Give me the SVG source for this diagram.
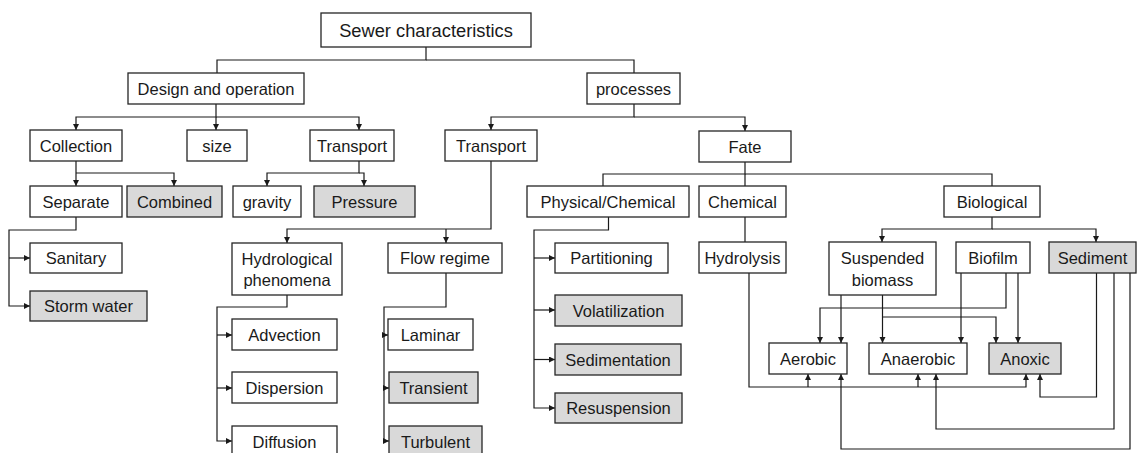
<svg xmlns="http://www.w3.org/2000/svg" width="1137" height="453" viewBox="0 0 1137 453">
<style>
.b rect{fill:#fff;stroke:#262626;stroke-width:1.3}
.g rect{fill:#d9d9d9}
text{font-family:"Liberation Sans",Arial,sans-serif;font-size:16.5px;fill:#1a1a1a;text-anchor:middle}
.c path{fill:none;stroke:#1a1a1a;stroke-width:1.2}
.a{marker-end:url(#ah)}
</style>
<defs>
<marker id="ah" markerUnits="userSpaceOnUse" markerWidth="7" markerHeight="7" refX="6" refY="3" orient="auto">
<path d="M0,0 L6,3 L0,6 z" fill="#1a1a1a"/>
</marker>
</defs>
<rect width="1137" height="453" fill="#fff"/>
<g class="c" id="connectors">
<path d="M426,47 V60 H217 V73"/>
<path d="M426,60 H634 V73"/>
<path class="a" d="M216,104 V117 H76 V130"/>
<path class="a" d="M216,117 V130"/>
<path class="a" d="M216,117 H359 V130"/>
<path class="a" d="M76,161 V173 V186"/>
<path class="a" d="M76,173 H174 V186"/>
<path class="a" d="M359,161 V173 H267 V186"/>
<path class="a" d="M359,173 H364 V186"/>
<path class="a" d="M76,217 V230 H9 V306 H30"/>
<path class="a" d="M9,258 H30"/>
<path class="a" d="M634,104 V117 H491 V130"/>
<path class="a" d="M634,117 H745 V131"/>
<path class="a" d="M491,161 V229 H287 V243"/>
<path class="a" d="M446,229 V243"/>
<path class="a" d="M287,295 V307 H217 V441 H232"/>
<path class="a" d="M217,335 H232"/>
<path class="a" d="M217,388 H232"/>
<path class="a" d="M446,273 V307 H384 V441 H389"/>
<path class="a" d="M384,335 H388"/>
<path class="a" d="M384,388 H389"/>
<path d="M745,162 V174 H603 V186"/>
<path d="M745,174 V186"/>
<path d="M745,174 H992 V186"/>
<path class="a" d="M608.5,217 V230 H534 V408 H555"/>
<path class="a" d="M534,258 H555"/>
<path class="a" d="M534,310 H555"/>
<path class="a" d="M534,359.5 H555"/>
<path d="M745,217 V242"/>
<path class="a" d="M992,217 V229 H882 V242"/>
<path class="a" d="M992,229 H1096 V242"/>
<path class="a" d="M841,295 V343"/>
<path class="a" d="M882.5,295 V343"/>
<path class="a" d="M882.5,317 H996 V343"/>
<path class="a" d="M961,273 V343"/>
<path class="a" d="M1006,273 V308 H820 V343"/>
<path class="a" d="M1018,273 V343"/>
<path class="a" d="M749,273 V387 H1026 V374"/>
<path class="a" d="M808,387 V374"/>
<path class="a" d="M918,387 V374"/>
<path class="a" d="M1096.5,273 V397 H1040 V374"/>
<path class="a" d="M1114,273 V429 H936 V374"/>
<path class="a" d="M1130,273 V449 H841 V374"/>
</g>
<g class="b" id="sewer"><rect x="321" y="13" width="210" height="34"/><text x="426" y="36.5" style="font-size:18.3px">Sewer characteristics</text></g>
<g class="b" id="design"><rect x="128" y="73" width="176" height="31"/><text x="216" y="94.5">Design and operation</text></g>
<g class="b" id="processes"><rect x="587" y="73" width="93" height="31"/><text x="633.5" y="94.5">processes</text></g>
<g class="b" id="collection"><rect x="30" y="130" width="92" height="31"/><text x="76" y="151.5">Collection</text></g>
<g class="b" id="size"><rect x="187" y="130" width="60" height="31"/><text x="217" y="151.5">size</text></g>
<g class="b" id="transport1"><rect x="310" y="130" width="84" height="31"/><text x="352" y="151.5">Transport</text></g>
<g class="b" id="separate"><rect x="30" y="186" width="92" height="31"/><text x="76" y="207.5">Separate</text></g>
<g class="b g" id="combined"><rect x="127" y="186" width="95" height="31"/><text x="174.5" y="207.5">Combined</text></g>
<g class="b" id="gravity"><rect x="233" y="186" width="68" height="31"/><text x="267" y="207.5">gravity</text></g>
<g class="b g" id="pressure"><rect x="314" y="186" width="101" height="31"/><text x="364.5" y="207.5">Pressure</text></g>
<g class="b" id="sanitary"><rect x="30" y="243" width="92" height="30"/><text x="76" y="264">Sanitary</text></g>
<g class="b g" id="stormwater"><rect x="30" y="291" width="117" height="30"/><text x="88.5" y="312">Storm water</text></g>
<g class="b" id="transport2"><rect x="445" y="130" width="92" height="31"/><text x="491" y="151.5">Transport</text></g>
<g class="b" id="fate"><rect x="699" y="131" width="92" height="31"/><text x="745" y="152.5">Fate</text></g>
<g class="b" id="hydrological"><rect x="232" y="243" width="110" height="52"/><text x="287" y="265">Hydrological</text><text x="287" y="286">phenomena</text></g>
<g class="b" id="flowregime"><rect x="388" y="243" width="114" height="30"/><text x="445" y="264">Flow regime</text></g>
<g class="b" id="advection"><rect x="232" y="319" width="105" height="31"/><text x="284.5" y="340.5">Advection</text></g>
<g class="b" id="dispersion"><rect x="232" y="372" width="105" height="31"/><text x="284.5" y="393.5">Dispersion</text></g>
<g class="b" id="diffusion"><rect x="232" y="426" width="105" height="31"/><text x="284.5" y="447.5">Diffusion</text></g>
<g class="b" id="laminar"><rect x="388" y="319" width="85" height="31"/><text x="430.5" y="340.5">Laminar</text></g>
<g class="b g" id="transient"><rect x="389" y="372" width="89" height="31"/><text x="433.5" y="393.5">Transient</text></g>
<g class="b g" id="turbulent"><rect x="389" y="426" width="93" height="31"/><text x="435.5" y="447.5">Turbulent</text></g>
<g class="b" id="physchem"><rect x="527" y="186" width="162" height="31"/><text x="608" y="207.5">Physical/Chemical</text></g>
<g class="b" id="chemical"><rect x="699" y="186" width="87" height="31"/><text x="742.5" y="207.5">Chemical</text></g>
<g class="b" id="biological"><rect x="944" y="186" width="96" height="31"/><text x="992" y="207.5">Biological</text></g>
<g class="b" id="partitioning"><rect x="555" y="243" width="113" height="30"/><text x="611.5" y="264">Partitioning</text></g>
<g class="b g" id="volatilization"><rect x="555" y="295" width="127" height="31"/><text x="618.5" y="316.5">Volatilization</text></g>
<g class="b g" id="sedimentation"><rect x="555" y="344" width="126" height="31"/><text x="618" y="365.5">Sedimentation</text></g>
<g class="b g" id="resuspension"><rect x="555" y="393" width="127" height="30"/><text x="618.5" y="414">Resuspension</text></g>
<g class="b" id="hydrolysis"><rect x="699" y="242" width="87" height="31"/><text x="742.5" y="263.5">Hydrolysis</text></g>
<g class="b" id="suspended"><rect x="829" y="242" width="107" height="53"/><text x="882.5" y="264">Suspended</text><text x="882.5" y="285.5">biomass</text></g>
<g class="b" id="biofilm"><rect x="956" y="242" width="74" height="31"/><text x="993" y="263.5">Biofilm</text></g>
<g class="b g" id="sediment"><rect x="1049" y="242" width="87" height="31"/><text x="1092.5" y="263.5">Sediment</text></g>
<g class="b" id="aerobic"><rect x="769" y="343" width="78" height="31"/><text x="808" y="364.5">Aerobic</text></g>
<g class="b" id="anaerobic"><rect x="869" y="343" width="98" height="31"/><text x="918" y="364.5">Anaerobic</text></g>
<g class="b g" id="anoxic"><rect x="989" y="343" width="72" height="31"/><text x="1025" y="364.5">Anoxic</text></g>
</svg>
